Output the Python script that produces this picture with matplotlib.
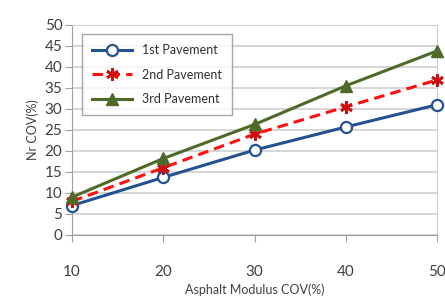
import matplotlib
matplotlib.use("Agg")
import matplotlib.pyplot as plt

# data
cov = [10, 20, 30, 40, 50]
pave1 = [7.0, 13.7, 20.2, 25.7, 31.0]
pave2 = [8.0, 16.0, 24.0, 30.5, 36.9]
pave3 = [9.0, 18.2, 26.3, 35.5, 43.8]
labels = ["1st Pavement", "2nd Pavement", "3rd Pavement"]

plt.rcParams['font.family'] = ['Lato', 'DejaVu Sans']

fig = plt.figure(figsize=(4.45, 2.97), dpi=100)
ax = fig.add_axes([0.162, 0.209, 0.82, 0.707])

ax.plot(cov, pave1, color='#24518f', lw=2.2, marker='o', ms=8,
        mfc='white', mec='#24518f', mew=1.6, label=labels[0], zorder=3)
ax.plot(cov, pave2, color='#ff1010', lw=2.2, ls=(0, (3.5, 2)), marker=(6, 2, 0), ms=9,
        mec='#cc1010', mew=2, label=labels[1], zorder=3)
ax.plot(cov, pave3, color='#4f6a28', lw=2.2, marker='^', ms=9,
        mfc='#4f6a28', mec='#4f6a28', label=labels[2], zorder=3)

ax.set_xlim(10, 50)
ax.set_ylim(0, 50)
ax.set_xticks(cov)
ax.set_yticks(range(0, 51, 5))
ax.yaxis.grid(True, color='#d0d0d0', lw=1.2)
ax.set_axisbelow(True)
for s in ax.spines.values():
    s.set_color('#d0d0d0')
ax.spines['left'].set_color('#a0a0a0')
ax.spines['bottom'].set_color('#a0a0a0')
ax.tick_params(axis='y', length=5, color='#a0a0a0', labelsize=11, labelcolor='#404040', pad=2)
ax.tick_params(axis='x', length=5, color='#a0a0a0', labelsize=11, labelcolor='#404040', pad=17)
for line in ax.lines:
    line.set_clip_on(False)

ax.set_xlabel("Asphalt Modulus COV(%)", fontsize=9, color='#404040', labelpad=3)
ax.set_ylabel("Nr COV(%)", fontsize=9, color='#404040', labelpad=4)

leg = ax.legend(loc='upper left', bbox_to_anchor=(0.01, 0.985), fontsize=9,
                frameon=True, fancybox=False, edgecolor='#909090',
                handlelength=3.2, labelspacing=1.0, borderpad=0.8)
leg.get_frame().set_linewidth(1.0)
for t in leg.get_texts():
    t.set_color('#303030')

fig.savefig("out.png", dpi=100)
